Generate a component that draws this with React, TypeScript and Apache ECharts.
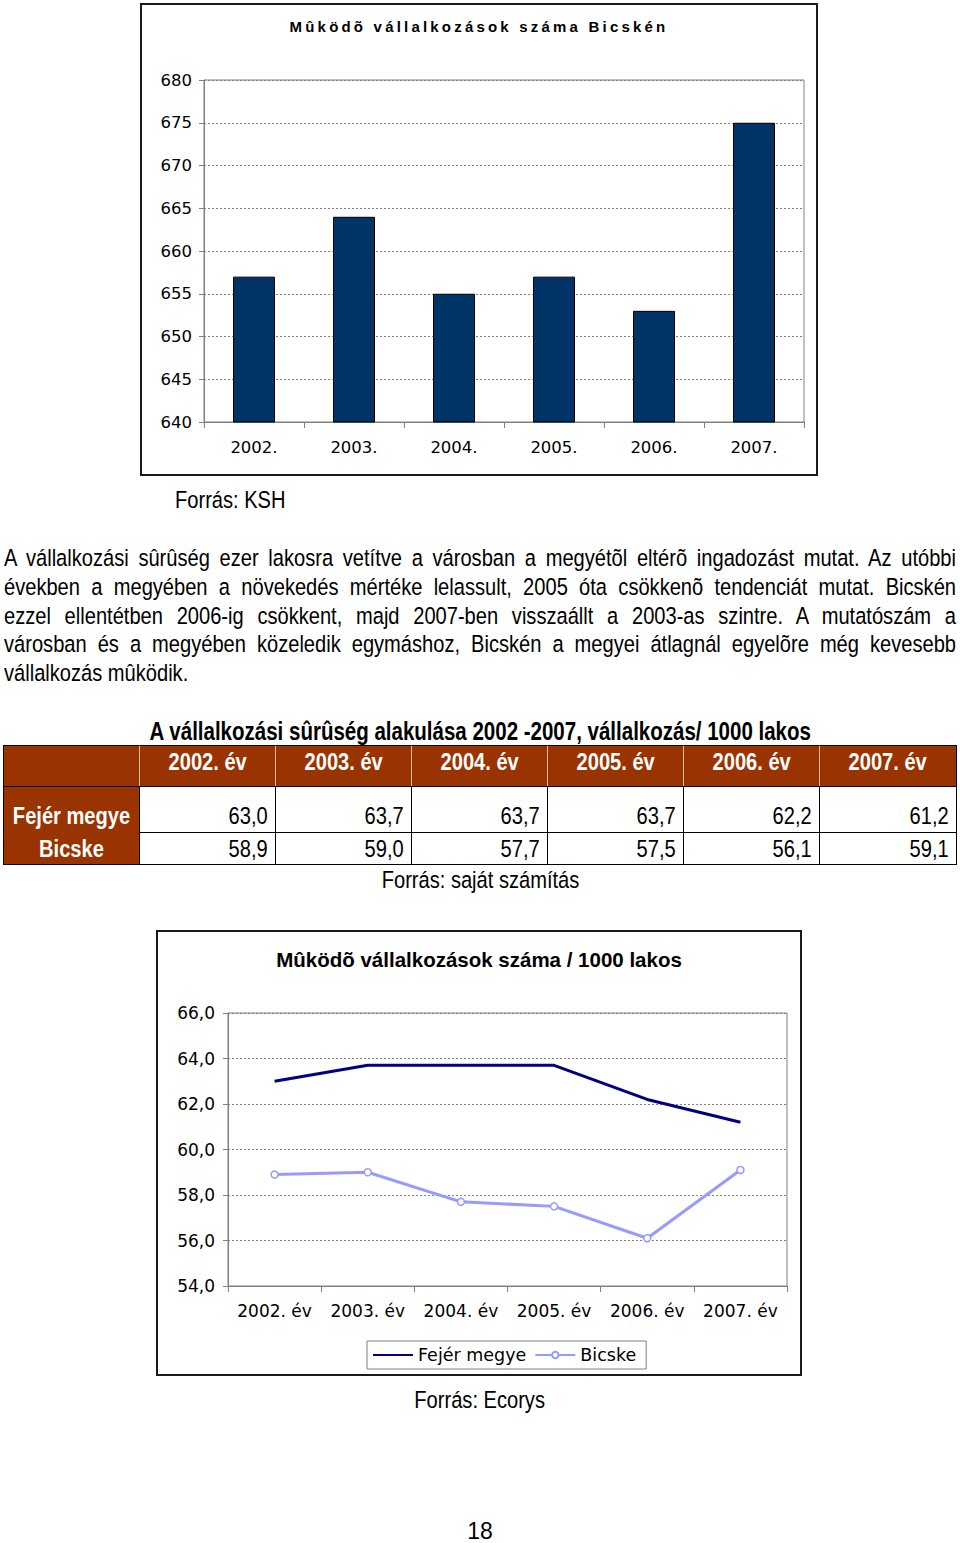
import React, { useEffect, useRef } from "react";
import * as echarts from "echarts";

// ---- data ----
const barYears = ["2002.", "2003.", "2004.", "2005.", "2006.", "2007."];
const barValues = [657, 664, 655, 657, 653, 675];
const barTicks = { min: 640, max: 680, interval: 5 };

const tableYears = ["2002. év", "2003. év", "2004. év", "2005. év", "2006. év", "2007. év"];
const fejerValues = [63.0, 63.7, 63.7, 63.7, 62.2, 61.2];
const bicskeValues = [58.9, 59.0, 57.7, 57.5, 56.1, 59.1];
const rowNames = ["Fejér megye", "Bicske"];
const lineTicks = { min: 54, max: 66, interval: 2 };

const paragraphLines = [
  "A vállalkozási sûrûség ezer lakosra vetítve a városban a megyétõl eltérõ ingadozást mutat. Az utóbbi",
  "években a megyében a növekedés mértéke lelassult, 2005 óta csökkenõ tendenciát mutat. Bicskén",
  "ezzel ellentétben 2006-ig csökkent, majd 2007-ben visszaállt a 2003-as szintre. A mutatószám a",
  "városban és a megyében közeledik egymáshoz, Bicskén a megyei átlagnál egyelõre még kevesebb",
  "vállalkozás mûködik.",
];

const fmt = (v: number) => v.toFixed(1).replace(".", ",");

const NARROW = 0.82;
const docFont = "'Liberation Sans', Arial, sans-serif";
const tickFont = "'DejaVu Sans', Verdana, sans-serif";

function Chart({ option, style }: { option: any; style: React.CSSProperties }) {
  const ref = useRef<HTMLDivElement>(null);
  useEffect(() => {
    if (!ref.current) return;
    const c = echarts.init(ref.current, undefined, { renderer: "svg" });
    c.setOption(option);
    return () => c.dispose();
  }, []);
  return <div ref={ref} style={style} />;
}

function N({ children, origin = "center", bold = false }: any) {
  return (
    <span
      style={{
        display: "inline-block",
        transform: `scaleX(${NARROW})`,
        transformOrigin: origin,
        whiteSpace: "nowrap",
        fontWeight: bold ? "bold" : "normal",
      }}
    >
      {children}
    </span>
  );
}

const barOption = {
  animation: false,
  grid: { left: 64, top: 77, width: 600, height: 342, show: true, borderColor: "#808080", borderWidth: 1 },
  xAxis: {
    type: "category",
    data: barYears,
    axisLine: { lineStyle: { color: "#808080" } },
    axisTick: { show: true, length: 6, lineStyle: { color: "#808080" } },
    axisLabel: { color: "#000", fontSize: 16.5, fontFamily: tickFont, margin: 17, interval: 0 },
  },
  yAxis: {
    type: "value",
    min: barTicks.min,
    max: barTicks.max,
    interval: barTicks.interval,
    axisLine: { show: true, lineStyle: { color: "#808080" } },
    axisTick: { show: true, length: 5, lineStyle: { color: "#808080" } },
    axisLabel: { color: "#000", fontSize: 16.5, fontFamily: tickFont, margin: 12 },
    splitLine: { lineStyle: { color: "#808080", type: [2, 2] } },
  },
  series: [
    {
      type: "bar",
      data: barValues,
      barWidth: 42,
      itemStyle: { color: "#003366", borderColor: "#000", borderWidth: 1 },
    },
  ],
  graphic: [
    {
      type: "rect",
      silent: true,
      shape: { x: 1, y: 1, width: 676, height: 471 },
      style: { fill: "none", stroke: "#1a1a1a", lineWidth: 2 },
    },
  ],
};

const lineOption = {
  animation: false,
  title: {
    text: "Mûködõ vállalkozások száma / 1000 lakos",
    left: "center",
    top: 14,
    textStyle: { fontFamily: docFont, fontWeight: "bold", fontSize: 20.5, color: "#000" },
  },
  legend: {
    left: 211,
    top: 411,
    itemWidth: 40,
    itemHeight: 8,
    itemGap: 8,
    padding: [5, 10, 5, 5],
    borderColor: "#808080",
    borderWidth: 1,
    textStyle: { fontFamily: tickFont, fontSize: 17.5, color: "#000" },
    data: [
      { name: rowNames[0], itemStyle: { opacity: 0 } },
      { name: rowNames[1] },
    ],
  },
  grid: { left: 72, top: 83, width: 559, height: 273, show: true, borderColor: "#808080", borderWidth: 1 },
  xAxis: {
    type: "category",
    data: tableYears,
    axisLine: { lineStyle: { color: "#808080" } },
    axisTick: { show: true, length: 6, lineStyle: { color: "#808080" } },
    axisLabel: { color: "#000", fontSize: 17, fontFamily: tickFont, margin: 16, interval: 0 },
  },
  yAxis: {
    type: "value",
    min: lineTicks.min,
    max: lineTicks.max,
    interval: lineTicks.interval,
    axisLine: { show: true, lineStyle: { color: "#808080" } },
    axisTick: { show: true, length: 5, lineStyle: { color: "#808080" } },
    axisLabel: { color: "#000", fontSize: 17, fontFamily: tickFont, margin: 13, formatter: (v: number) => fmt(v) },
    splitLine: { lineStyle: { color: "#808080", type: [2, 2] } },
  },
  series: [
    {
      name: rowNames[0],
      type: "line",
      data: fejerValues,
      symbol: "none",
      lineStyle: { color: "#000080", width: 3 },
      itemStyle: { color: "#000080" },
    },
    {
      name: rowNames[1],
      type: "line",
      data: bicskeValues,
      symbol: "circle",
      symbolSize: 7,
      lineStyle: { color: "#9999FF", width: 3 },
      itemStyle: { color: "#fff", borderColor: "#9999FF", borderWidth: 1.5 },
    },
  ],
  graphic: [
    {
      type: "rect",
      silent: true,
      shape: { x: 1, y: 1, width: 644, height: 444 },
      style: { fill: "none", stroke: "#1a1a1a", lineWidth: 2 },
    },
  ],
};

const colX = [3, 139, 275, 411, 547, 683, 819, 956];
const rowY = [745, 786, 832, 864];
const BROWN = "#993300";

function Table() {
  const cells: React.ReactNode[] = [];
  const tableValues = [fejerValues, bicskeValues];
  for (let r = 0; r < 3; r++) {
    for (let c = 0; c < 7; c++) {
      const brown = r === 0 || c === 0;
      const left = colX[c];
      const top = rowY[r];
      const w = colX[c + 1] - colX[c];
      const h = rowY[r + 1] - rowY[r];
      let content: React.ReactNode = null;
      let align: any = "center";
      let vAlign = "center";
      let pad: React.CSSProperties = {};
      if (r === 0 && c > 0) {
        content = <N bold>{tableYears[c - 1]}</N>;
        vAlign = "flex-start";
        pad = { paddingTop: 3 };
      } else if (r > 0 && c === 0) {
        content = <N bold>{rowNames[r - 1]}</N>;
      } else if (r > 0) {
        content = <N origin="right">{fmt(tableValues[r - 1][c - 1])}</N>;
        align = "flex-end";
        pad = { paddingRight: 7 };
      }
      if (r === 1) {
        vAlign = "flex-end";
        pad = { ...pad, paddingBottom: 3 };
      }
      const lineCol = brown ? "#d8b8a8" : "#000";
      cells.push(
        <div
          key={`${r}-${c}`}
          style={{
            position: "absolute",
            left,
            top,
            width: w,
            height: h,
            boxSizing: "border-box",
            background: brown ? BROWN : "#fff",
            color: brown ? "#fff" : "#000",
            borderLeft: c === 0 ? "1px solid #000" : `1px solid ${lineCol}`,
            borderTop: r === 0 ? "1px solid #000" : r === 2 && c === 0 ? `1px solid ${BROWN}` : "1px solid #000",
            display: "flex",
            justifyContent: align,
            alignItems: vAlign,
            fontFamily: docFont,
            fontSize: 24.5,
            lineHeight: "26px",
            ...pad,
          }}
        >
          {content}
        </div>
      );
    }
  }
  return (
    <>
      {cells}
      <div style={{ position: "absolute", left: 3, top: 864, width: 954, height: 1, background: "#000" }} />
      <div style={{ position: "absolute", left: 956, top: 745, width: 1, height: 120, background: "#000" }} />
    </>
  );
}

export default function App() {
  const text: React.CSSProperties = {
    position: "absolute",
    fontFamily: docFont,
    fontSize: 24.5,
    lineHeight: "28px",
    color: "#000",
    whiteSpace: "nowrap",
  };
  return (
    <div
      style={{
        position: "absolute",
        left: 0,
        top: 0,
        width: 960,
        height: 1540,
        background: "#fff",
      }}
    >
      <Chart option={barOption} style={{ position: "absolute", left: 140, top: 3, width: 678, height: 473 }} />
      <div
        style={{
          position: "absolute",
          left: 140,
          top: 17,
          width: 678,
          textAlign: "center",
          fontFamily: docFont,
          fontWeight: "bold",
          fontSize: 15,
          letterSpacing: "3.2px",
          lineHeight: "20px",
          color: "#000",
        }}
      >
        Mûködõ vállalkozások száma Bicskén
      </div>
      <div style={{ ...text, left: 175, top: 486 }}>
        <N origin="left">Forrás: KSH</N>
      </div>

      <div style={{ position: "absolute", left: 4, top: 544, width: 952 }}>
        {paragraphLines.map((line, i) => (
          <div
            key={i}
            style={{
              width: 952 / NARROW,
              height: 28.8,
              transform: `scaleX(${NARROW})`,
              transformOrigin: "left top",
              fontFamily: docFont,
              fontSize: 24.5,
              lineHeight: "28.8px",
              textAlign: "justify",
              textAlignLast: i < paragraphLines.length - 1 ? "justify" : "left",
              color: "#000",
            }}
          >
            {line}
          </div>
        ))}
      </div>

      <div style={{ ...text, left: 0, width: 960, top: 717, textAlign: "center", fontWeight: "bold", fontSize: 25 }}>
        <N bold>A vállalkozási sûrûség alakulása 2002 -2007, vállalkozás/ 1000 lakos</N>
      </div>
      <Table />
      <div style={{ ...text, left: 0, width: 960, top: 866, textAlign: "center" }}>
        <N>Forrás: saját számítás</N>
      </div>

      <Chart option={lineOption} style={{ position: "absolute", left: 156, top: 930, width: 646, height: 446 }} />

      <div style={{ ...text, left: 0, width: 960, top: 1386, textAlign: "center" }}>
        <N>Forrás: Ecorys</N>
      </div>
      <div style={{ ...text, left: 440, width: 80, top: 1521, height: 20, lineHeight: "20px", fontSize: 23, textAlign: "center" }}>
        18
      </div>
    </div>
  );
}
